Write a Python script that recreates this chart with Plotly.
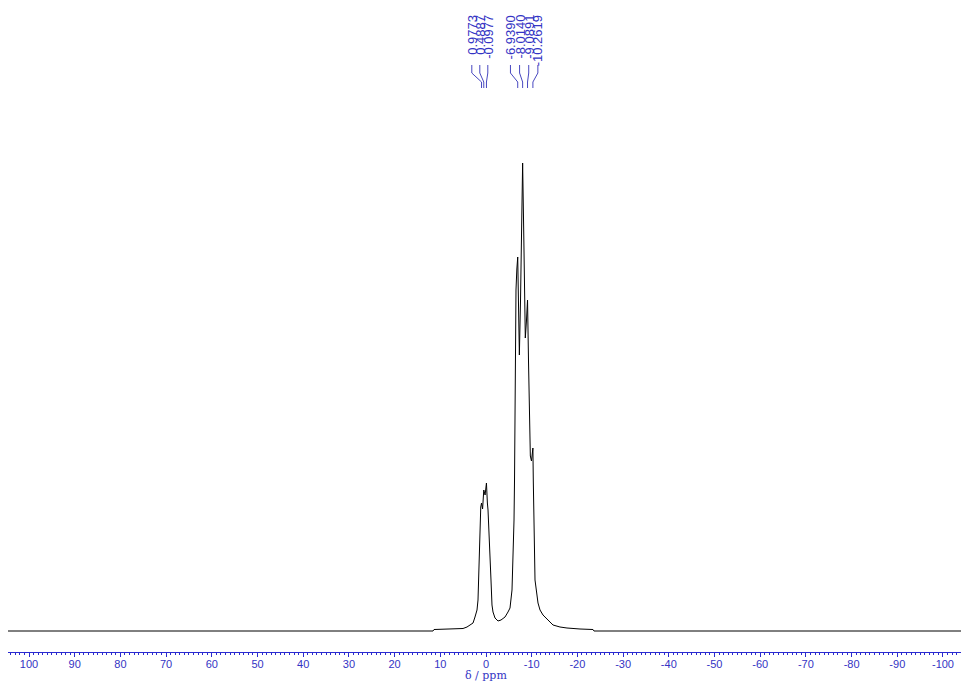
import plotly.graph_objects as go

# Spectrum trace: chemical shift (ppm) and intensity (arbitrary units)
shift_ppm = [105.0, 11.6, 11.38, 6.35, 5.03, 4.16, 3.50, 2.84, 2.41, 1.97, 1.75, 1.64,
             1.53, 1.42, 1.31, 1.15, 0.9773, 0.75, 0.4887, 0.20, -0.0977, -0.15, -0.30,
             -0.44, -0.66, -0.88, -1.09, -1.31, -1.53, -1.97, -2.63, -3.28, -4.16, -4.81,
             -5.25, -5.69, -5.91, -6.13, -6.24, -6.35, -6.46, -6.56, -6.75, -6.939, -7.10,
             -7.30, -7.55, -7.80, -8.014, -8.25, -8.60, -8.85, -9.089, -9.30, -9.50,
             -9.70, -9.95, -10.2619, -10.35, -10.45, -10.55, -10.72, -11.38, -11.82,
             -12.47, -13.57, -14.66, -16.19, -17.72, -20.57, -23.41, -23.63, -105.0]
intensity = [0, 0, 1.5, 2, 2.5, 4, 6, 8, 14, 21, 31, 48,
             71, 101, 118, 124, 128, 122, 141, 136, 148, 138, 128,
             121, 101, 71, 51, 26, 19, 13, 10, 11, 14, 19,
             23, 41, 71, 111, 151, 231, 301, 341, 362, 374, 330,
             276, 330, 420, 468, 400, 293, 310, 331, 270, 210,
             175, 170, 183, 150, 110, 81, 51, 28, 21,
             16, 11, 6, 4, 3, 2, 1.5, 0, 0]

# Picked peaks, as labelled above the spectrum
peak_groups = [
    [0.9773, 0.4887, -0.0977],
    [-6.9390, -8.0140, -9.0891, -10.2619],
]
peak_labels = [
    ["0.9773", "0.4887", "-0.0977"],
    ["-6.9390", "-8.0140", "-9.0891", "-10.2619"],
]

x_ticks = list(range(100, -101, -10))
x_title = "δ / ppm"

BLUE = "#3434c4"
LINE_BLUE = "#4848c0"
AXIS_BLUE = "#2a2ad0"

fig = go.Figure()
fig.add_trace(go.Scatter(x=shift_ppm, y=intensity, mode="lines",
                         line=dict(color="black", width=1), hoverinfo="skip",
                         showlegend=False))

# label fan-out: labels spread evenly around each group of peaks
group_spacing = [1.75, 2.0]
group_shift = [0.9, 0.23]
y_text_top = 618
y_l0, y_l1, y_l2, y_l3 = 566, 558, 549, 543
cx, cy = [], []
for g, peaks in enumerate(peak_groups):
    n = len(peaks)
    centre = sum(peaks) / n + group_shift[g]
    for i, (p, lab) in enumerate(zip(peaks, peak_labels[g])):
        lx = centre - (i - (n - 1) / 2) * group_spacing[g]
        fig.add_annotation(x=lx, y=y_text_top, text=lab, textangle=-90,
                           showarrow=False, xanchor="center", yanchor="top",
                           font=dict(family="Liberation Sans", size=13, color=BLUE))
        cx += [lx, lx, p, p, None]
        cy += [y_l0, y_l1, y_l2, y_l3, None]

fig.add_trace(go.Scatter(x=cx, y=cy, mode="lines", line=dict(color=LINE_BLUE, width=1),
                         hoverinfo="skip", showlegend=False))

# axis title, centred under the 0 ppm tick
fig.add_annotation(x=0, xref="x", y=0, yref="paper", yanchor="top", xanchor="center",
                   yshift=-16, showarrow=False, text=x_title, borderpad=0,
                   font=dict(family="DejaVu Serif", size=11, color=BLUE))

fig.update_layout(
    width=961, height=682,
    margin=dict(l=8, r=0, t=0, b=30, autoexpand=False),
    paper_bgcolor="white", plot_bgcolor="white",
    xaxis=dict(range=[104.6, -103.94], tickvals=x_ticks,
               ticktext=[str(v) for v in x_ticks],
               automargin=False, ticklabelstandoff=-2,
               showgrid=False, zeroline=False, showline=True,
               linecolor=AXIS_BLUE, linewidth=1,
               ticks="outside", ticklen=4, tickcolor=AXIS_BLUE,
               minor=dict(dtick=1, ticks="outside", ticklen=2, tickcolor=AXIS_BLUE),
               tickfont=dict(family="Liberation Sans", size=11, color=BLUE)),
    yaxis=dict(range=[-21, 631], visible=False, showgrid=False, zeroline=False),
)

fig.write_html("out.html")
